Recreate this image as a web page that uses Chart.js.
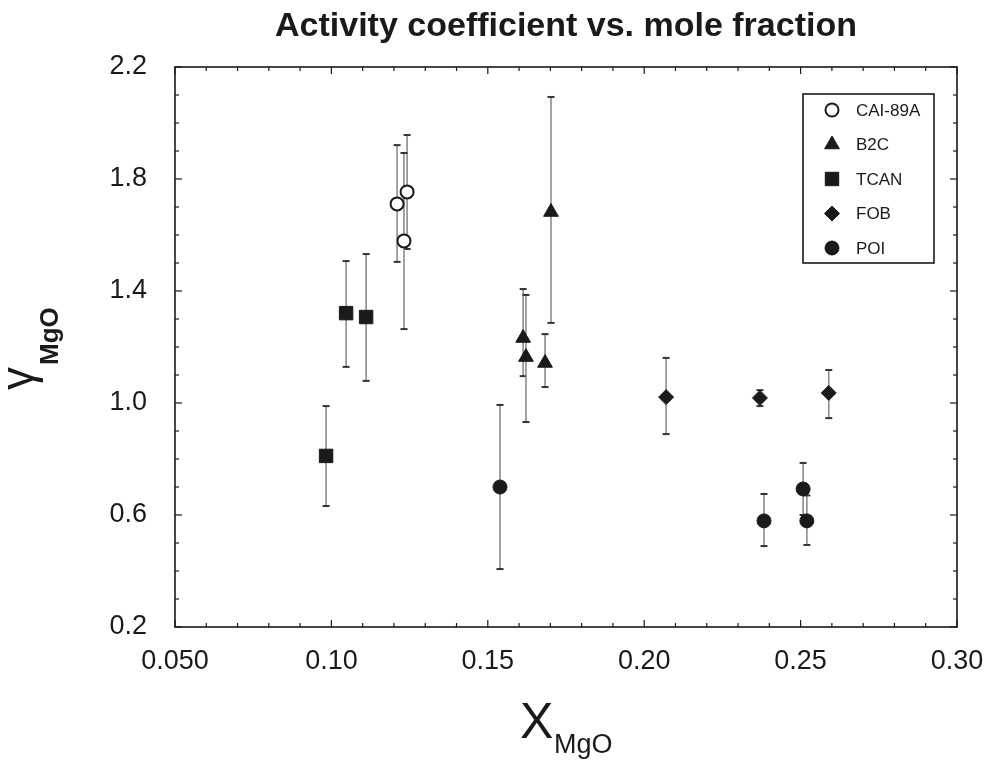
<!DOCTYPE html>
<html><head><meta charset="utf-8">
<script src="https://cdn.jsdelivr.net/npm/chart.js@4.4.0/dist/chart.umd.min.js"></script>
<style>html,body{margin:0;padding:0;background:#fff}canvas{display:block}</style>
</head><body>
<canvas id="c" width="990" height="762"></canvas>
<script>
// ---- data ----
const seriesNames = ["CAI-89A", "B2C", "TCAN", "FOB", "POI"];

const caiX  = [0.1210, 0.1242, 0.1232];
const caiY  = [1.711, 1.754, 1.579];
const caiLo = [1.504, 1.550, 1.264];
const caiHi = [1.921, 1.957, 1.893];

const b2cX  = [0.1613, 0.1622, 0.1683, 0.1702];
const b2cY  = [1.232, 1.164, 1.143, 1.682];
const b2cLo = [1.096, 0.932, 1.057, 1.286];
const b2cHi = [1.407, 1.386, 1.246, 2.093];

const tcanX  = [0.0983, 0.1047, 0.1111];
const tcanY  = [0.811, 1.321, 1.307];
const tcanLo = [0.632, 1.129, 1.079];
const tcanHi = [0.989, 1.507, 1.532];

const fobX  = [0.207, 0.237, 0.259];
const fobY  = [1.021, 1.018, 1.036];
const fobLo = [0.889, 0.989, 0.946];
const fobHi = [1.161, 1.046, 1.118];

const poiX  = [0.1539, 0.2383, 0.2508, 0.2520];
const poiY  = [0.700, 0.579, 0.693, 0.579];
const poiLo = [0.407, 0.489, 0.600, 0.493];
const poiHi = [0.993, 0.675, 0.786, 0.670];

const xTickVals   = [0.05, 0.10, 0.15, 0.20, 0.25, 0.30];
const xTickLabels = ["0.050", "0.10", "0.15", "0.20", "0.25", "0.30"];
const yTickVals   = [0.2, 0.6, 1.0, 1.4, 1.8, 2.2];
const yTickLabels = ["0.2", "0.6", "1.0", "1.4", "1.8", "2.2"];

const titleText = "Activity coefficient vs. mole fraction";

// ---- styling ----
const FONT = "'Liberation Sans', Arial, Helvetica, sans-serif";
const INK = '#1a1a1a';

function pts(xs, ys) { return xs.map((x, i) => ({ x: x, y: ys[i] })); }

const styles = [
  { pointStyle: 'circle',  pointRadius: 6.5, backgroundColor: '#ffffff', borderColor: INK, borderWidth: 2 },
  { pointStyle: 'triangle', pointRadius: 8.5, backgroundColor: INK, borderColor: INK, borderWidth: 1 },
  { pointStyle: 'rect',    pointRadius: 9.5, backgroundColor: INK, borderColor: INK, borderWidth: 1 },
  { pointStyle: 'rectRot', pointRadius: 7.5, backgroundColor: INK, borderColor: INK, borderWidth: 1 },
  { pointStyle: 'circle',  pointRadius: 7,   backgroundColor: INK, borderColor: INK, borderWidth: 1 }
];

const seriesData = [
  [caiX, caiY, caiLo, caiHi],
  [b2cX, b2cY, b2cLo, b2cHi],
  [tcanX, tcanY, tcanLo, tcanHi],
  [fobX, fobY, fobLo, fobHi],
  [poiX, poiY, poiLo, poiHi]
];

const datasets = seriesData.map((s, i) => Object.assign({
  label: seriesNames[i],
  data: pts(s[0], s[1]),
  errLo: s[2],
  errHi: s[3],
  showLine: false,
  pointHoverRadius: styles[i].pointRadius
}, styles[i]));

function line(ctx, x1, y1, x2, y2) { ctx.beginPath(); ctx.moveTo(x1, y1); ctx.lineTo(x2, y2); ctx.stroke(); }

const errorBars = {
  id: 'errorBars',
  beforeDatasetsDraw(chart) {
    const { ctx, scales: { x, y } } = chart;
    ctx.save();
    chart.data.datasets.forEach(ds => {
      ds.data.forEach((p, i) => {
        const px = x.getPixelForValue(p.x);
        const yl = y.getPixelForValue(ds.errLo[i]);
        const yh = y.getPixelForValue(ds.errHi[i]);
        ctx.strokeStyle = '#8c8c8c'; ctx.lineWidth = 1.6;
        line(ctx, px, yl, px, yh);
        ctx.strokeStyle = '#333'; ctx.lineWidth = 2;
        line(ctx, px - 3.5, yl, px + 3.5, yl);
        line(ctx, px - 3.5, yh, px + 3.5, yh);
      });
    });
    ctx.restore();
  }
};

const frame = {
  id: 'frame',
  beforeDatasetsDraw(chart) {
    const { ctx, chartArea: a, scales: { x, y } } = chart;
    ctx.save();
    ctx.strokeStyle = INK; ctx.lineWidth = 1.6;
    ctx.strokeRect(a.left, a.top, a.right - a.left, a.bottom - a.top);
    ctx.lineWidth = 1.2;
    for (let i = 5; i <= 30; i++) {
      const px = x.getPixelForValue(i / 100);
      const L = (i % 5 === 0) ? 7 : 4;
      line(ctx, px, a.bottom, px, a.bottom - L);
      line(ctx, px, a.top, px, a.top + L);
    }
    for (let i = 2; i <= 22; i++) {
      const py = y.getPixelForValue(i / 10);
      const L = ((i - 2) % 4 === 0) ? 7 : 4;
      line(ctx, a.left, py, a.left + L, py);
      line(ctx, a.right, py, a.right - L, py);
    }
    ctx.restore();
  }
};

function drawMarker(ctx, ds, cx, cy) {
  const r = ds.pointRadius;
  ctx.save();
  ctx.fillStyle = ds.backgroundColor; ctx.strokeStyle = ds.borderColor; ctx.lineWidth = ds.borderWidth;
  ctx.beginPath();
  if (ds.pointStyle === 'circle') {
    ctx.arc(cx, cy, r, 0, Math.PI * 2);
  } else if (ds.pointStyle === 'triangle') {
    ctx.moveTo(cx, cy - r);
    ctx.lineTo(cx + r * Math.cos(Math.PI / 6), cy + r * 0.5);
    ctx.lineTo(cx - r * Math.cos(Math.PI / 6), cy + r * 0.5);
    ctx.closePath();
  } else if (ds.pointStyle === 'rect') {
    const s = r * Math.SQRT1_2;
    ctx.rect(cx - s, cy - s, 2 * s, 2 * s);
  } else {
    ctx.moveTo(cx - r, cy); ctx.lineTo(cx, cy - r); ctx.lineTo(cx + r, cy); ctx.lineTo(cx, cy + r); ctx.closePath();
  }
  ctx.fill(); ctx.stroke();
  ctx.restore();
}

const legendBox = {
  id: 'legendBox',
  afterDraw(chart) {
    const { ctx, chartArea: a } = chart;
    const bx = a.right - 154, by = a.top + 27, bw = 131, bh = 169;
    ctx.save();
    ctx.fillStyle = '#fff';
    ctx.fillRect(bx, by, bw, bh);
    ctx.strokeStyle = INK; ctx.lineWidth = 1.6;
    ctx.strokeRect(bx, by, bw, bh);
    ctx.font = '17px ' + FONT;
    ctx.textBaseline = 'middle'; ctx.textAlign = 'left';
    chart.data.datasets.forEach((ds, i) => {
      const cy = by + 16 + i * 34.5;
      drawMarker(ctx, ds, bx + 29, cy);
      ctx.fillStyle = INK;
      ctx.fillText(ds.label, bx + 53, cy + 1);
    });
    ctx.restore();
  }
};

const axisTitles = {
  id: 'axisTitles',
  afterDraw(chart) {
    const { ctx } = chart;
    ctx.save();
    ctx.fillStyle = INK; ctx.textAlign = 'left'; ctx.textBaseline = 'alphabetic';
    ctx.font = '50px ' + FONT;
    ctx.fillText('X', 520, 738);
    ctx.font = '27px ' + FONT;
    ctx.fillText('MgO', 554, 753);
    ctx.rotate(-Math.PI / 2);
    ctx.font = '46px ' + FONT;
    ctx.fillText('\u03B3', -390, 33);
    ctx.font = 'bold 26px ' + FONT;
    ctx.fillText('MgO', -365, 58);
    ctx.restore();
  }
};

new Chart(document.getElementById('c'), {
  type: 'scatter',
  data: { datasets: datasets },
  options: {
    responsive: false,
    animation: false,
    events: [],
    layout: { padding: { left: 0, right: 33, top: 0, bottom: 0 } },
    plugins: {
      legend: { display: false },
      tooltip: { enabled: false },
      title: {
        display: true, text: titleText, color: INK, fullSize: false,
        font: { family: FONT, size: 34, weight: 'bold' },
        padding: { top: 6, bottom: 20.2 }
      }
    },
    scales: {
      x: {
        type: 'linear', min: 0.05, max: 0.30,
        grid: { display: false, drawTicks: false },
        border: { display: false },
        afterBuildTicks: s => { s.ticks = xTickVals.map(v => ({ value: v })); },
        afterFit: s => { s.height = 135; s.paddingLeft = 0; s.paddingRight = 0; },
        ticks: {
          callback: (v, i) => xTickLabels[i], autoSkip: false, maxRotation: 0,
          color: INK, padding: 18, font: { family: FONT, size: 27 }
        }
      },
      y: {
        type: 'linear', min: 0.2, max: 2.2,
        grid: { display: false, drawTicks: false },
        border: { display: false },
        afterBuildTicks: s => { s.ticks = yTickVals.map(v => ({ value: v })); },
        afterFit: s => { s.width = 175; s.paddingTop = 0; s.paddingBottom = 0; },
        ticks: {
          callback: (v, i) => yTickLabels[i], autoSkip: false,
          color: INK, padding: 28, font: { family: FONT, size: 27 }
        }
      }
    }
  },
  plugins: [frame, errorBars, legendBox, axisTitles]
});
</script>
</body></html>
